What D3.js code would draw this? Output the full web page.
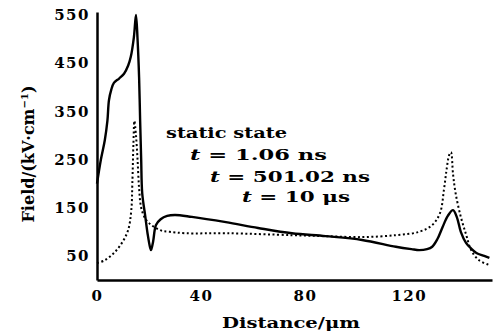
<!DOCTYPE html>
<html lang="en">
<head>
  <meta charset="UTF-8" />
  <title>Field vs Distance</title>
  <script src="https://unpkg.com/d3@7/dist/d3.min.js"></script>
  <style>
    body { margin: 0; background: #fff; }
    svg { display: block; }
    text { font-family: "DejaVu Serif", "Liberation Serif", serif; font-weight: bold; fill: #000; }
    .axis text { font-size: 15px; letter-spacing: 1.5px; }
    .axis path { stroke: #000; stroke-width: 2.5px; }
  </style>
</head>
<body>
  <svg id="chart" width="496" height="336"></svg>

  <script>
  // distance (µm) / field (kV/cm)
  const solidX = [0, 1.5, 3, 4, 4.6, 5.5, 6.5, 8.5, 10.4, 12, 13, 14.2, 15, 15.6, 16.2, 16.6, 17, 17.4, 18.5, 19.5, 20.4, 20.8, 21.6, 22.7, 24.5, 27, 30, 36.5, 49.6, 62, 75, 88, 102, 115, 121, 124, 127, 129, 131, 133, 135, 137, 138.5, 140, 142, 144, 146, 149, 151];
  const solidY = [200, 250, 290, 330, 373, 395, 409, 418, 428, 445, 463, 504, 550, 500, 420, 330, 250, 180, 135, 95, 68, 62, 80, 114, 126, 133, 135, 131, 120, 108, 97, 91, 83, 69, 64, 62, 64, 69, 85, 110, 133, 145, 130, 100, 77, 65, 56, 50, 46];

  const dotX = [0, 3, 6.5, 9.6, 12, 13.2, 13.6, 14, 14.4, 15, 15.6, 16.2, 17, 18.5, 20, 22, 25, 28, 34, 50, 75, 88, 102, 115, 124, 129, 132, 133.5, 134.5, 135.5, 136.2, 137, 138, 140, 142, 144, 147, 151];
  const dotY = [35, 41, 56, 77, 104, 145, 200, 280, 330, 300, 250, 190, 150, 128, 118, 110, 102, 100, 97, 97, 93, 91, 89, 93, 100, 114, 139, 187, 228, 259, 265, 220, 180, 131, 95, 62, 41, 31];

  const yTicks = [50, 150, 250, 350, 450, 550];
  const xTicks = [0, 40, 80, 120];

  const notes = [
    { t: null, txt: "static state" },
    { t: "t", txt: "1.06 ns" },
    { t: "t", txt: "501.02 ns" },
    { t: "t", txt: "10 \u03bcs" }
  ];

  const svg = d3.select("#chart");
  const margin = { top: 12, right: 4, bottom: 56, left: 97 };
  const width  = 496 - margin.left - margin.right;
  const height = 336 - margin.top - margin.bottom;

  const chart = svg.append("g")
    .attr("transform", `translate(${margin.left},${margin.top})`);

  const x = d3.scaleLinear().domain([0, 152]).range([0, width]);
  const y = d3.scaleLinear().domain([0, 556]).range([height, 0]);

  // axes: no tick marks, just labels
  chart.append("g")
    .attr("class", "axis")
    .attr("transform", `translate(0,${height})`)
    .call(d3.axisBottom(x).tickValues(xTicks).tickSize(0).tickPadding(10).tickSizeOuter(0));

  chart.append("g")
    .attr("class", "axis")
    .call(d3.axisLeft(y).tickValues(yTicks).tickSize(0).tickPadding(7).tickSizeOuter(0));

  const line = d3.line()
    .x(d => x(d[0]))
    .y(d => y(d[1]))
    .curve(d3.curveCatmullRom.alpha(0.5));

  chart.append("path")
    .datum(dotX.map((v, i) => [v, dotY[i]]))
    .attr("fill", "none")
    .attr("stroke", "#000")
    .attr("stroke-width", 2)
    .attr("stroke-dasharray", "2,2.5")
    .attr("d", line);

  chart.append("path")
    .datum(solidX.map((v, i) => [v, solidY[i]]))
    .attr("fill", "none")
    .attr("stroke", "#000")
    .attr("stroke-width", 2.4)
    .attr("d", line);

  // annotation block
  const notePos = [[166, 138, 121], [190, 160, 137], [210, 182, 160], [242, 202, 108]];
  notes.forEach((n, i) => {
    const [nx, ny, len] = notePos[i];
    const t = svg.append("text")
      .attr("x", nx).attr("y", ny)
      .style("font-size", "14px")
      .attr("textLength", len)
      .attr("lengthAdjust", "spacingAndGlyphs");
    if (n.t) {
      t.append("tspan").style("font-style", "italic").text(n.t);
      t.append("tspan").text(" = " + n.txt);
    } else {
      t.text(n.txt);
    }
  });

  // axis titles
  svg.append("text")
    .attr("x", 291)
    .attr("y", 328)
    .attr("text-anchor", "middle")
    .style("font-size", "15px")
    .attr("textLength", 138)
    .attr("lengthAdjust", "spacingAndGlyphs")
    .text("Distance/\u03bcm");

  const yl = svg.append("text")
    .attr("transform", "translate(34,154) rotate(-90)")
    .attr("text-anchor", "middle")
    .style("font-size", "16px");
  yl.append("tspan").text("Field/(kV\u00b7cm");
  yl.append("tspan").attr("dy", -6).style("font-size", "10px").text("\u22121");
  yl.append("tspan").attr("dy", 6).text(")");
  </script>
</body>
</html>
